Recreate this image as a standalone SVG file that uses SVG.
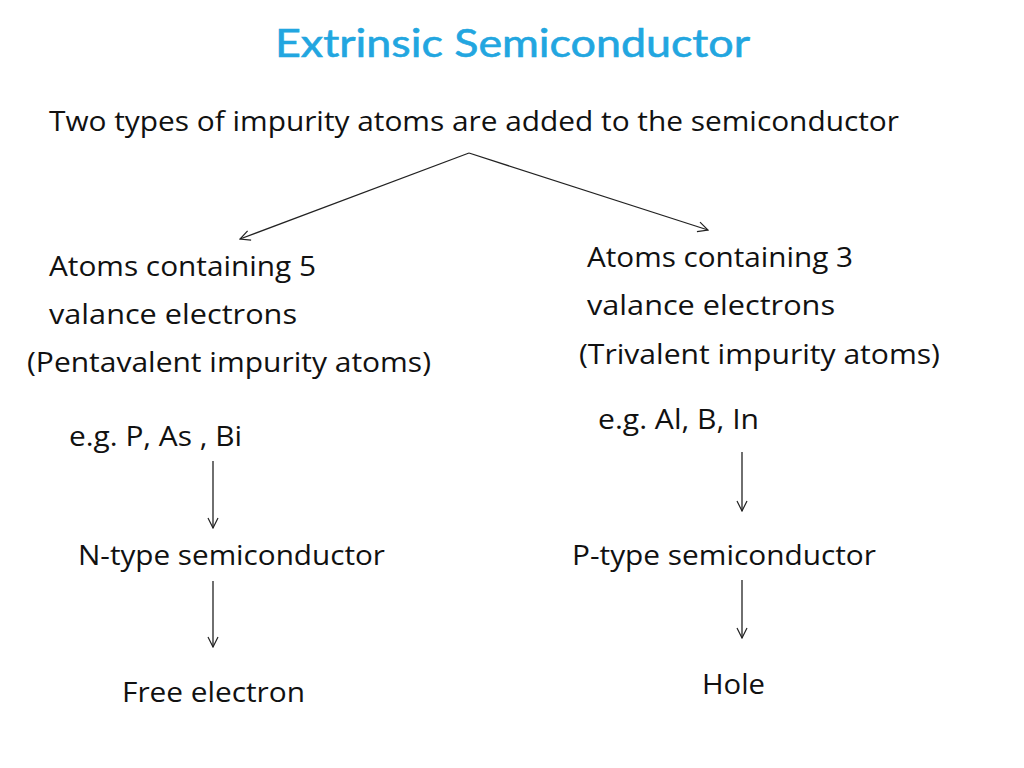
<svg xmlns="http://www.w3.org/2000/svg" width="1024" height="768" viewBox="0 0 1024 768">
<style>
.t{font-family:"Open Sans","Liberation Sans",sans-serif;font-size:28px;fill:#111}
.title{font-family:"Lato","Liberation Sans",sans-serif;font-size:38px;fill:#22a6e0;stroke:#22a6e0;stroke-width:0.6}
.c{stroke:#222;stroke-width:1.3;fill:none;marker-end:url(#a)}
</style>
<defs>
<marker id="a" viewBox="0 0 12 12" refX="11" refY="6" markerWidth="12" markerHeight="12" markerUnits="userSpaceOnUse" orient="auto">
<path d="M1,1 L11,6 L1,11" fill="none" stroke="#222" stroke-width="1.2"/>
</marker>
</defs>
<rect width="1024" height="768" fill="#fff"/>
<g id="title"><text class="title" x="275" y="57" textLength="475" lengthAdjust="spacingAndGlyphs">Extrinsic Semiconductor</text></g>
<g id="intro"><text class="t" x="49" y="131" textLength="850" lengthAdjust="spacingAndGlyphs">Two types of impurity atoms are added to the semiconductor</text></g>
<g id="pentavalent">
<text class="t" x="49" y="276" textLength="267" lengthAdjust="spacingAndGlyphs">Atoms containing 5</text>
<text class="t" x="49" y="324" textLength="248" lengthAdjust="spacingAndGlyphs">valance  electrons</text>
<text class="t" x="27" y="372" textLength="404" lengthAdjust="spacingAndGlyphs">(Pentavalent impurity atoms)</text>
</g>
<g id="eg-n"><text class="t" x="69" y="446" textLength="173" lengthAdjust="spacingAndGlyphs">e.g. P, As , Bi</text></g>
<g id="trivalent">
<text class="t" x="587" y="267" textLength="266" lengthAdjust="spacingAndGlyphs">Atoms containing 3</text>
<text class="t" x="587" y="315" textLength="248" lengthAdjust="spacingAndGlyphs">valance  electrons</text>
<text class="t" x="579" y="364" textLength="361" lengthAdjust="spacingAndGlyphs">(Trivalent impurity atoms)</text>
</g>
<g id="eg-p"><text class="t" x="598" y="429" textLength="161" lengthAdjust="spacingAndGlyphs">e.g. Al, B, In</text></g>
<g id="ntype"><text class="t" x="78" y="565" textLength="307" lengthAdjust="spacingAndGlyphs">N-type semiconductor</text></g>
<g id="ptype"><text class="t" x="572" y="565" textLength="304" lengthAdjust="spacingAndGlyphs">P-type semiconductor</text></g>
<g id="free"><text class="t" x="122" y="702" textLength="183" lengthAdjust="spacingAndGlyphs">Free electron</text></g>
<g id="hole"><text class="t" x="702" y="694" textLength="63" lengthAdjust="spacingAndGlyphs">Hole</text></g>
<g id="connectors">
<path class="c" d="M469,153 L240,239"/>
<path class="c" d="M469,153 L708,230"/>
<path class="c" d="M213,461 L213,528"/>
<path class="c" d="M213,581 L213,647"/>
<path class="c" d="M742,452 L742,511"/>
<path class="c" d="M742,580 L742,638"/>
</g>
</svg>
